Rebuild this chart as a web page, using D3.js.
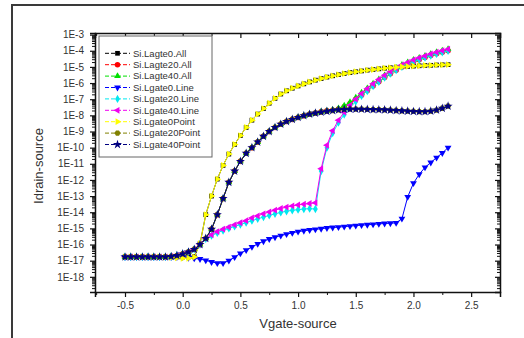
<!DOCTYPE html>
<html>
<head>
<meta charset="utf-8">
<script src="https://cdn.jsdelivr.net/npm/d3@7"></script>
<style>
  body { margin: 0; background: #fff; }
  svg text { font-family: Arial, "Liberation Sans", sans-serif; }
</style>
</head>
<body>
<div id="chart"></div>
<script>
// gate voltage sweep (V)
const vgate = [
  -0.5, -0.45, -0.4, -0.35, -0.3, -0.25, -0.2, -0.15, -0.1, -0.05,
  0, 0.05, 0.1, 0.15, 0.2, 0.25, 0.3, 0.35, 0.4, 0.45,
  0.5, 0.55, 0.6, 0.65, 0.7, 0.75, 0.8, 0.85, 0.9, 0.95,
  1.0, 1.05, 1.1, 1.15, 1.2, 1.25, 1.3, 1.35, 1.4, 1.45,
  1.5, 1.55, 1.6, 1.65, 1.7, 1.75, 1.8, 1.85, 1.9, 1.95,
  2.0, 2.05, 2.1, 2.15, 2.2, 2.25, 2.3
]

// drain current, stored as log10(Id)
const lagte0All = [
  -16.77, -16.77, -16.77, -16.77, -16.77, -16.77, -16.77, -16.77, -16.77, -16.77,
  -16.77, -16.77, -16.75, -15.95, -14.15, -13.0, -11.95, -11.1, -10.4, -9.8,
  -9.25, -8.75, -8.3, -7.92, -7.58, -7.25, -6.95, -6.68, -6.48, -6.32,
  -6.18, -6.05, -5.93, -5.82, -5.72, -5.63, -5.55, -5.48, -5.41, -5.35,
  -5.3, -5.25, -5.2, -5.16, -5.12, -5.08, -5.05, -5.02, -4.99, -4.97,
  -4.95, -4.93, -4.91, -4.9, -4.88, -4.87, -4.86
]
const lagte20All = [
  -16.77, -16.77, -16.77, -16.77, -16.77, -16.77, -16.77, -16.77, -16.74, -16.68,
  -16.58, -16.46, -16.3, -16.0, -15.62, -15.05, -14.15, -13.15, -12.15, -11.45,
  -10.85, -10.35, -10.0, -9.65, -9.3, -9.0, -8.75, -8.55, -8.38, -8.25,
  -8.13, -8.02, -7.93, -7.86, -7.78, -7.72, -7.68, -7.6, -7.47, -7.27,
  -7.0, -6.75, -6.47, -6.18, -5.92, -5.66, -5.42, -5.2, -5.0, -4.84,
  -4.68, -4.55, -4.42, -4.3, -4.19, -4.09, -4.0
]
const lagte40All = [
  -16.77, -16.77, -16.77, -16.77, -16.77, -16.77, -16.77, -16.77, -16.74, -16.68,
  -16.58, -16.46, -16.3, -16.0, -15.62, -15.05, -14.15, -13.15, -12.15, -11.45,
  -10.85, -10.35, -10.0, -9.65, -9.3, -9.0, -8.75, -8.55, -8.38, -8.25,
  -8.13, -8.02, -7.93, -7.86, -7.78, -7.72, -7.66, -7.57, -7.4, -7.19,
  -6.91, -6.6, -6.33, -6.04, -5.78, -5.52, -5.28, -5.07, -4.88, -4.72,
  -4.57, -4.44, -4.32, -4.2, -4.09, -3.99, -3.9
]
const lgate0Line = [
  -16.77, -16.77, -16.77, -16.77, -16.77, -16.77, -16.77, -16.77, -16.77, -16.77,
  -16.78, -16.82, -16.86, -16.9, -16.98, -17.08, -17.15, -17.15, -17.0, -16.78,
  -16.55, -16.35, -16.15, -15.96, -15.8, -15.66, -15.55, -15.45, -15.36, -15.28,
  -15.2, -15.15, -15.1, -15.06, -15.02, -14.98, -14.95, -14.92, -14.89, -14.86,
  -14.83, -14.8, -14.78, -14.75, -14.72, -14.7, -14.68, -14.66, -14.4, -13.05,
  -12.2, -11.65, -11.22, -10.92, -10.62, -10.33, -10.0
]
const lgate20Line = [
  -16.77, -16.77, -16.77, -16.77, -16.77, -16.77, -16.77, -16.77, -16.74, -16.68,
  -16.58, -16.46, -16.3, -16.0, -15.65, -15.45, -15.28, -15.13, -15.0, -14.88,
  -14.76, -14.64, -14.52, -14.41, -14.3, -14.2, -14.1, -14.01, -13.94, -13.88,
  -13.84, -13.8, -13.78, -13.8, -11.45, -10.0, -9.1, -8.45, -7.95, -7.52,
  -7.14, -6.79, -6.49, -6.19, -5.92, -5.66, -5.42, -5.2, -5.0, -4.84,
  -4.68, -4.55, -4.42, -4.3, -4.19, -4.09, -4.0
]
const lgate40Line = [
  -16.77, -16.77, -16.77, -16.77, -16.77, -16.77, -16.77, -16.77, -16.74, -16.68,
  -16.58, -16.46, -16.3, -16.0, -15.62, -15.4, -15.2, -15.05, -14.92, -14.78,
  -14.65, -14.52, -14.35, -14.22, -14.1, -13.98, -13.87, -13.77, -13.68, -13.61,
  -13.55, -13.5, -13.46, -13.42, -11.3, -9.85, -8.95, -8.3, -7.8, -7.38,
  -7.0, -6.65, -6.35, -6.05, -5.78, -5.52, -5.28, -5.07, -4.88, -4.72,
  -4.57, -4.44, -4.32, -4.2, -4.09, -3.99, -3.9
]
const lgate0Point = [
  -16.77, -16.77, -16.77, -16.77, -16.77, -16.77, -16.77, -16.78, -16.8, -16.82,
  -16.85, -16.85, -16.78, -15.95, -14.15, -13.0, -11.95, -11.1, -10.4, -9.8,
  -9.25, -8.75, -8.3, -7.92, -7.58, -7.25, -6.95, -6.68, -6.48, -6.32,
  -6.18, -6.05, -5.93, -5.82, -5.72, -5.63, -5.55, -5.48, -5.41, -5.35,
  -5.3, -5.25, -5.2, -5.16, -5.12, -5.08, -5.05, -5.02, -4.99, -4.97,
  -4.95, -4.93, -4.91, -4.9, -4.88, -4.87, -4.86
]
const lgate20Point = [
  -16.77, -16.77, -16.77, -16.77, -16.77, -16.77, -16.77, -16.77, -16.74, -16.68,
  -16.58, -16.46, -16.3, -16.0, -15.62, -15.05, -14.15, -13.15, -12.15, -11.45,
  -10.85, -10.35, -10.0, -9.65, -9.3, -9.0, -8.75, -8.55, -8.38, -8.25,
  -8.13, -8.02, -7.93, -7.86, -7.8, -7.75, -7.7, -7.66, -7.63, -7.62,
  -7.62, -7.62, -7.63, -7.64, -7.65, -7.66, -7.68, -7.7, -7.72, -7.74,
  -7.76, -7.77, -7.77, -7.74, -7.67, -7.56, -7.43
]
const lgate40Point = [
  -16.77, -16.77, -16.77, -16.77, -16.77, -16.77, -16.77, -16.77, -16.74, -16.68,
  -16.58, -16.46, -16.3, -16.0, -15.62, -15.05, -14.15, -13.15, -12.15, -11.45,
  -10.85, -10.35, -10.0, -9.65, -9.3, -9.0, -8.75, -8.55, -8.38, -8.25,
  -8.13, -8.02, -7.93, -7.86, -7.8, -7.75, -7.7, -7.66, -7.63, -7.62,
  -7.62, -7.62, -7.63, -7.64, -7.65, -7.66, -7.68, -7.7, -7.72, -7.74,
  -7.76, -7.77, -7.77, -7.74, -7.67, -7.56, -7.43
]

const yTickValues = [1e-18, 1e-17, 1e-16, 1e-15, 1e-14, 1e-13, 1e-12, 1e-11, 1e-10, 1e-9, 1e-8, 1e-7, 1e-6, 1e-5, 1e-4, 1e-3]
const yTickLabels = ['1E-18', '1E-17', '1E-16', '1E-15', '1E-14', '1E-13', '1E-12', '1E-11', '1E-10', '1E-9', '1E-8', '1E-7', '1E-6', '1E-5', '1E-4', '1E-3']
const xTickValues = [-0.5, 0, 0.5, 1.0, 1.5, 2.0, 2.5]
const xTickLabels = ['-0.5', '0.0', '0.5', '1.0', '1.5', '2.0', '2.5']

const series = [
  { name: 'Si.Lagte0.All', values: lagte0All, color: '#000000', shape: 'square' },
  { name: 'Si.Lagte20.All', values: lagte20All, color: '#ff0000', shape: 'circle' },
  { name: 'Si.Lagte40.All', values: lagte40All, color: '#00e000', shape: 'up' },
  { name: 'Si.Lgate0.Line', values: lgate0Line, color: '#0000ff', shape: 'down' },
  { name: 'Si.Lgate20.Line', values: lgate20Line, color: '#00e8f0', shape: 'diamond' },
  { name: 'Si.Lgate40.Line', values: lgate40Line, color: '#f000f0', shape: 'left' },
  { name: 'Si.Lgate0Point', values: lgate0Point, color: '#ffff00', shape: 'right' },
  { name: 'Si.Lgate20Point', values: lgate20Point, color: '#808000', shape: 'hexagon' },
  { name: 'Si.Lgate40Point', values: lgate40Point, color: '#000080', shape: 'star' }
]

const margin = { top: 33, left: 95, right: 24, bottom: 46 }
const width = 524 - margin.left - margin.right
const height = 338 - margin.top - margin.bottom

const root = d3
  .select('#chart')
  .append('svg')
  .attr('width', 524)
  .attr('height', 338)

// outer frame of the figure
root
  .append('rect')
  .attr('x', 12)
  .attr('y', 5)
  .attr('width', 640)
  .attr('height', 420)
  .attr('fill', 'none')
  .attr('stroke', '#3a3a3a')
  .attr('stroke-width', 2)

const svg = root
  .append('g')
  .attr('transform', 'translate(' + margin.left + ',' + margin.top + ')')

const x = d3.scaleLinear().domain([-0.76, 2.75]).range([0, width])
const y = d3
  .scaleLog()
  .domain([Math.pow(10, -18.94), Math.pow(10, -2.9)])
  .range([height, 0])

// minor ticks
const yMinor = []
for (let e = -19; e <= -3; e++) {
  for (let k = 2; k <= 9; k++) {
    const v = k * Math.pow(10, e)
    if (v > y.domain()[0] && v < y.domain()[1]) yMinor.push(v)
  }
}
const xMinor = [-0.75, -0.25, 0.25, 0.75, 1.25, 1.75, 2.25, 2.75]

function styleAxis(g) {
  g.select('.domain').attr('stroke', '#111').attr('stroke-width', 1.5)
  g.selectAll('.tick line').attr('stroke', '#111').attr('stroke-width', 1.2)
  g.selectAll('.tick text')
    .attr('fill', '#333')
    .style('font-size', '10px')
}
function minorAxis(g) {
  g.select('.domain').remove()
  g.selectAll('.tick line').attr('stroke', '#111').attr('stroke-width', 1)
}

// left
svg.append('g')
  .call(d3.axisLeft(y).tickValues(yMinor).tickSize(3).tickFormat(''))
  .call(minorAxis)
svg.append('g')
  .call(d3.axisLeft(y).tickValues(yTickValues).tickSize(5).tickPadding(6)
    .tickFormat((d, i) => yTickLabels[i]))
  .call(styleAxis)

// right (ticks inward)
svg.append('g')
  .attr('transform', 'translate(' + width + ',0)')
  .call(d3.axisLeft(y).tickValues(yMinor).tickSize(3).tickFormat(''))
  .call(minorAxis)
svg.append('g')
  .attr('transform', 'translate(' + width + ',0)')
  .call(d3.axisLeft(y).tickValues(yTickValues).tickSize(5).tickFormat(''))
  .call(styleAxis)

// bottom
svg.append('g')
  .attr('transform', 'translate(0,' + height + ')')
  .call(d3.axisBottom(x).tickValues(xMinor).tickSize(3).tickFormat(''))
  .call(minorAxis)
svg.append('g')
  .attr('transform', 'translate(0,' + height + ')')
  .call(d3.axisBottom(x).tickValues(xTickValues).tickSize(5).tickPadding(5)
    .tickFormat((d, i) => xTickLabels[i]))
  .call(styleAxis)

// top (ticks inward)
svg.append('g')
  .call(d3.axisBottom(x).tickValues(xMinor).tickSize(3).tickFormat(''))
  .call(minorAxis)
svg.append('g')
  .call(d3.axisBottom(x).tickValues(xTickValues).tickSize(5).tickFormat(''))
  .call(styleAxis)

// axis titles
root.append('text')
  .text('Idrain-source')
  .attr('transform', 'translate(38,166) rotate(-90)')
  .attr('dy', '0.35em')
  .attr('text-anchor', 'middle')
  .attr('fill', '#333')
  .style('font-size', '13px')

root.append('text')
  .text('Vgate-source')
  .attr('x', 298)
  .attr('y', 328)
  .attr('text-anchor', 'middle')
  .attr('fill', '#333')
  .style('font-size', '13px')

// markers
const symbolHexagon = {
  draw(context, size) {
    const r = Math.sqrt(size / (1.5 * Math.sqrt(3)))
    context.moveTo(r, 0)
    for (let i = 1; i < 6; i++) {
      const a = (Math.PI / 3) * i
      context.lineTo(r * Math.cos(a), r * Math.sin(a))
    }
    context.closePath()
  }
}
const shapes = {
  square: { type: d3.symbolSquare, size: 22, rotate: 0 },
  circle: { type: d3.symbolCircle, size: 24, rotate: 0 },
  up: { type: d3.symbolTriangle, size: 20, rotate: 0 },
  down: { type: d3.symbolTriangle, size: 20, rotate: 180 },
  diamond: { type: d3.symbolDiamond, size: 20, rotate: 0 },
  left: { type: d3.symbolTriangle, size: 20, rotate: -90 },
  right: { type: d3.symbolTriangle, size: 20, rotate: 90 },
  hexagon: { type: symbolHexagon, size: 24, rotate: 0 },
  star: { type: d3.symbolStar, size: 26, rotate: 0 }
}
function markerPath(shape) {
  return d3.symbol().type(shapes[shape].type).size(shapes[shape].size)()
}

const line = d3
  .line()
  .x(d => x(d.v))
  .y(d => y(d.id))

series.forEach(function(s) {
  const points = vgate.map((v, i) => ({ v: v, id: Math.pow(10, s.values[i]) }))
  const g = svg.append('g')

  g.append('path')
    .datum(points)
    .attr('d', line)
    .attr('fill', 'none')
    .attr('stroke', s.color)
    .attr('stroke-width', 1)

  g.selectAll('path.marker')
    .data(points)
    .enter()
    .append('path')
    .attr('class', 'marker')
    .attr('d', markerPath(s.shape))
    .attr('transform', d =>
      'translate(' + x(d.v) + ',' + y(d.id) + ') rotate(' + shapes[s.shape].rotate + ')')
    .attr('fill', s.color)
})

// legend
const legend = root.append('g')
legend.append('rect')
  .attr('x', 99)
  .attr('y', 36)
  .attr('width', 113)
  .attr('height', 121)
  .attr('fill', '#fff')
  .attr('stroke', '#666')
  .attr('stroke-width', 1)

legend.selectAll('g.item')
  .data(series)
  .enter()
  .append('g')
  .attr('class', 'item')
  .attr('transform', (d, i) => 'translate(0,' + (53.3 + i * 11.4) + ')')
  .each(function(d) {
    const item = d3.select(this)
    item.append('line')
      .attr('x1', 105)
      .attr('x2', 130)
      .attr('stroke', d.color)
      .attr('stroke-width', 1)
      .attr('stroke-dasharray', '4,2')
    item.append('path')
      .attr('d', markerPath(d.shape))
      .attr('transform', 'translate(117.5,0) rotate(' + shapes[d.shape].rotate + ')')
      .attr('fill', d.color)
    item.append('text')
      .text(d.name)
      .attr('x', 133)
      .attr('dy', '0.35em')
      .attr('fill', '#333')
      .style('font-size', '9.5px')
  })
</script>
</body>
</html>
